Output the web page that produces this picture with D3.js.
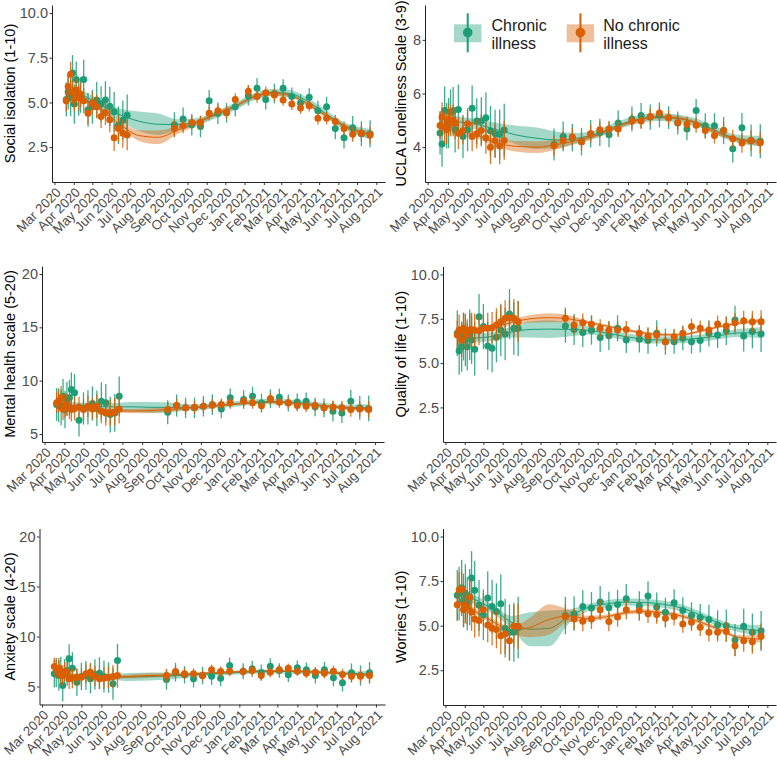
<!DOCTYPE html>
<html>
<head>
<meta charset="utf-8">
<script src="https://cdn.jsdelivr.net/npm/d3@7"></script>
<style>
  body { margin: 0; background: #fff; }
  svg { display: block; font-family: "Liberation Sans", Arial, sans-serif; }
</style>
</head>
<body>
<script>
// Survey waves (point dates) and smooth knots
var waveDates = ["2020-03-20","2020-03-23","2020-03-27","2020-03-30","2020-04-02","2020-04-05","2020-04-09","2020-04-12","2020-04-17","2020-04-24","2020-05-01","2020-05-08","2020-05-15","2020-05-22","2020-05-29","2020-06-05","2020-06-12","2020-06-19","2020-06-26",
  "2020-09-10","2020-09-24","2020-10-08","2020-10-22","2020-11-05","2020-11-19","2020-12-03","2020-12-17","2021-01-07","2021-01-21","2021-02-04","2021-02-18","2021-03-04","2021-03-18","2021-04-01","2021-04-15","2021-04-29","2021-05-13","2021-05-27","2021-06-10","2021-06-24","2021-07-08","2021-07-22"];
var smoothDates = ["2020-03-20","2020-04-15","2020-05-15","2020-06-15","2020-07-15","2020-08-15","2020-09-15","2020-10-15","2020-11-15","2020-12-15","2021-01-15","2021-02-15","2021-03-15","2021-04-15","2021-05-15","2021-06-15","2021-07-22"];

var groupNames = [["Chronic", "illness"], ["No chronic", "illness"]];

// Error bar half widths per wave (social isolation units)
var ciChronic = [0.95,1.0,1.05,1.0,1.1,1.0,1.05,1.0,1.1,0.95,0.95,1.0,1.0,1.05,1.1,1.1,1.05,1.1,1.15,
  0.7,0.65,0.6,0.6,0.6,0.6,0.55,0.55,0.55,0.55,0.55,0.55,0.5,0.5,0.5,0.5,0.55,0.55,0.6,0.6,0.65,0.7,0.75];
var ciNoChronic = [0.6,0.65,0.7,0.65,0.7,0.65,0.7,0.7,0.7,0.6,0.6,0.65,0.65,0.7,0.7,0.75,0.75,0.8,0.85,
  0.45,0.4,0.38,0.38,0.38,0.36,0.36,0.35,0.35,0.35,0.35,0.35,0.33,0.33,0.33,0.33,0.35,0.35,0.38,0.4,0.42,0.45,0.48];

// Social isolation
var isoChronic = [5.16,5.6,5.29,6.65,4.91,6.29,5.3,5.42,6.29,4.59,4.76,5.14,4.91,5.14,4.78,4.48,3.73,4.01,4.29,
  3.75,4.07,3.75,3.65,5.10,4.39,4.42,4.76,5.38,5.80,5.16,5.5,5.80,5.33,4.97,5.29,4.54,4.76,3.54,3.03,3.59,3.25,3.25];
var isoNoChronic = [5.10,5.89,6.57,5.57,5.20,5.70,5.25,5.44,5.10,4.40,4.97,4.76,4.22,4.44,4.03,3.03,3.54,3.27,3.18,
  3.54,3.69,3.88,3.88,4.39,4.54,4.44,5.16,5.63,5.33,5.54,5.42,5.14,4.91,4.69,4.82,4.12,4.12,3.93,3.54,3.22,3.27,3.18];
var isoFitChronic = [5.67,5.4,4.85,4.3,3.95,3.78,3.76,3.9,4.3,4.75,5.3,5.55,5.5,5.0,4.3,3.62,3.22];
var isoSeChronic = [0.35,0.25,0.25,0.35,0.55,0.6,0.3,0.22,0.2,0.2,0.2,0.2,0.2,0.2,0.2,0.2,0.3];
var isoFitNoChronic = [5.57,5.2,4.6,3.75,3.15,3.05,3.45,3.85,4.35,4.75,5.3,5.5,5.4,4.85,4.2,3.6,3.2];
var isoSeNoChronic = [0.25,0.15,0.15,0.2,0.3,0.38,0.22,0.15,0.12,0.12,0.12,0.12,0.12,0.12,0.12,0.12,0.2];

// UCLA loneliness
var uclaChronic = [4.53,4.12,5.37,4.8,4.9,5.3,5.35,4.65,5.4,4.4,4.65,5.45,4.97,4.97,5.1,4.6,4.5,4.47,4.64,
  4.1,4.4,4.35,4.2,4.5,4.55,4.46,4.9,5.05,5.18,5.12,5.2,5.1,4.9,4.68,5.37,4.8,4.8,4.62,3.94,4.72,4.25,4.22];
var uclaNoChronic = [4.81,5.12,4.75,4.66,5.02,4.95,5.0,4.9,4.52,4.62,4.87,4.4,4.5,4.62,4.35,4.0,4.25,4.04,4.25,
  4.05,4.25,4.38,4.2,4.5,4.65,4.68,4.68,4.97,4.97,5.14,5.27,5.1,4.92,4.85,4.82,4.62,4.43,4.62,4.31,4.15,4.25,4.16];
var uclaFitChronic = [5.05,4.95,4.85,4.65,4.45,4.33,4.27,4.33,4.5,4.8,5.02,5.12,5.08,4.92,4.62,4.32,4.22];
var uclaSeChronic = [0.3,0.2,0.2,0.25,0.35,0.4,0.3,0.2,0.15,0.15,0.15,0.15,0.15,0.15,0.15,0.15,0.2];
var uclaFitNoChronic = [4.9,4.65,4.45,4.15,4.03,4.0,4.1,4.25,4.45,4.75,5.0,5.12,5.1,4.9,4.55,4.3,4.17];
var uclaSeNoChronic = [0.2,0.12,0.12,0.15,0.2,0.22,0.18,0.1,0.08,0.08,0.08,0.08,0.08,0.08,0.08,0.08,0.12];

// Mental health
var mhChronic = [7.76,7.7,7.5,8.55,7.3,8.3,8.39,9.17,8.86,6.29,7.4,7.5,7.86,7.4,8.08,7.92,6.82,6.98,8.55,
  7.04,7.67,7.45,7.45,7.6,7.76,7.35,8.39,8.23,8.55,7.9,8.3,8.45,7.9,8.0,8.08,7.55,7.45,7.13,6.98,8.08,7.45,7.4];
var mhNoChronic = [7.92,8.08,8.39,7.35,7.67,7.76,7.5,7.3,7.4,7.54,7.3,7.6,7.35,7.6,7.13,6.98,6.98,7.07,7.35,
  7.3,7.67,7.45,7.5,7.6,7.7,7.76,7.92,8.08,7.92,7.65,8.3,7.98,7.92,7.67,7.6,7.67,7.45,7.54,7.45,7.3,7.35,7.3];
var mhFitChronic = [7.75,7.7,7.6,7.55,7.55,7.5,7.5,7.5,7.6,7.75,7.95,8.05,8.0,7.85,7.65,7.5,7.45];
var mhSeChronic = [0.4,0.3,0.3,0.35,0.45,0.5,0.45,0.3,0.25,0.25,0.25,0.25,0.25,0.25,0.25,0.25,0.35];
var mhFitNoChronic = [7.8,7.55,7.4,7.2,7.15,7.2,7.3,7.45,7.6,7.75,7.9,7.98,7.95,7.8,7.6,7.45,7.35];
var mhSeNoChronic = [0.2,0.12,0.12,0.15,0.2,0.22,0.18,0.1,0.1,0.1,0.1,0.1,0.1,0.1,0.1,0.1,0.15];

// Quality of life
var qolChronic = [6.68,5.7,5.93,6.5,6.31,5.93,6.6,6.31,5.78,7.62,7.06,5.97,5.84,6.46,6.87,6.64,7.77,6.96,6.96,
  7.09,6.9,6.72,6.85,6.44,6.55,6.96,6.31,6.34,6.27,6.68,6.21,6.21,6.4,6.21,6.27,6.68,6.59,6.83,7.43,6.53,6.78,6.64];
var qolNoChronic = [6.59,6.87,6.31,6.96,6.78,6.59,6.87,6.9,6.85,6.83,6.96,6.96,7.0,7.15,7.34,7.53,7.56,7.53,7.34,
  7.53,7.15,7.28,7.19,6.96,6.87,6.87,6.9,6.68,6.53,6.59,6.21,6.49,6.68,7.06,6.96,6.87,7.21,7.09,7.28,7.39,7.34,7.34];
var qolFitChronic = [6.3,6.4,6.5,6.75,6.9,6.92,6.9,6.85,6.7,6.5,6.35,6.3,6.32,6.4,6.55,6.7,6.72];
var qolSeChronic = [0.35,0.25,0.25,0.3,0.45,0.5,0.4,0.25,0.2,0.2,0.2,0.2,0.2,0.2,0.2,0.22,0.3];
var qolFitNoChronic = [6.7,6.85,6.98,7.3,7.5,7.56,7.5,7.3,7.1,6.88,6.7,6.6,6.6,6.8,7.05,7.25,7.4];
var qolSeNoChronic = [0.2,0.12,0.12,0.15,0.22,0.25,0.2,0.1,0.08,0.08,0.08,0.08,0.08,0.08,0.08,0.08,0.12];

// Anxiety
var anxChronic = [6.27,6.4,6.1,6.53,5.1,6.3,6.6,7.77,6.83,5.43,6.0,6.1,5.77,6.2,6.33,6.0,5.9,5.27,7.6,
  5.7,6.43,6.17,5.77,6.1,6.03,5.83,7.1,6.53,6.77,6.4,7.03,6.6,6.17,6.87,6.67,6.1,6.67,5.87,5.37,6.37,6.1,6.37];
var anxNoChronic = [7.0,6.77,6.83,6.27,6.1,6.5,6.43,5.77,5.83,5.93,5.93,6.27,6.43,6.03,5.77,5.83,5.93,6.0,6.1,
  6.1,6.5,6.27,6.27,6.1,6.67,6.5,6.53,6.5,6.6,6.1,6.43,6.67,6.83,6.53,6.33,6.43,6.33,6.53,6.2,6.03,6.03,6.1];
var anxFitChronic = [6.2,6.1,6.0,5.95,5.95,6.0,6.05,6.15,6.25,6.35,6.45,6.5,6.5,6.45,6.4,6.3,6.25];
var anxSeChronic = [0.35,0.25,0.25,0.3,0.4,0.4,0.35,0.25,0.2,0.2,0.2,0.2,0.2,0.2,0.2,0.2,0.3];
var anxFitNoChronic = [6.5,6.15,6.0,5.95,6.0,6.1,6.15,6.25,6.35,6.45,6.5,6.55,6.55,6.5,6.4,6.3,6.15];
var anxSeNoChronic = [0.2,0.12,0.12,0.15,0.2,0.22,0.18,0.1,0.1,0.1,0.1,0.1,0.1,0.1,0.1,0.1,0.15];

// Worries
var worChronic = [6.7,6.8,7.12,6.42,6.8,6.23,6.6,7.68,6.98,6.14,5.61,6.55,6.08,5.8,6.23,4.86,4.63,4.63,4.9,
  5.57,5.67,6.08,5.99,6.33,6.0,6.19,6.51,6.1,6.66,6.04,5.75,6.29,5.85,5.57,5.46,5.35,5.04,5.0,4.2,4.97,4.63,4.7];
var worNoChronic = [6.17,7.02,7.04,5.89,6.17,6.04,6.6,5.76,5.38,5.29,5.89,5.04,4.86,4.78,4.44,4.53,4.16,4.97,4.97,
  5.52,5.38,5.25,5.38,5.89,5.23,5.48,5.89,5.85,5.67,5.63,5.42,5.52,5.1,5.19,4.91,4.63,4.63,4.67,3.88,4.16,4.1,4.4];
var worFitChronic = [6.9,6.5,5.95,5.2,4.8,4.85,5.5,6.0,6.22,6.32,6.3,6.2,6.0,5.6,5.15,4.85,4.72];
var worSeChronic = [0.35,0.25,0.25,0.35,0.95,1.0,0.4,0.2,0.2,0.2,0.2,0.2,0.2,0.2,0.2,0.2,0.3];
var worFitNoChronic = [6.4,5.85,5.25,4.75,4.9,5.35,5.55,5.4,5.5,5.72,5.8,5.72,5.55,5.2,4.8,4.35,4.25];
var worSeNoChronic = [0.2,0.15,0.15,0.2,0.55,0.85,0.35,0.15,0.12,0.12,0.12,0.12,0.12,0.12,0.12,0.12,0.2];

// Colours (Dark2)
var colours = ["#1b9e77", "#d95f02"];

var svgWidth = 777;
var svgHeight = 762;

var svg = d3.select("body").append("svg")
  .attr("width", svgWidth)
  .attr("height", svgHeight);

var parseDate = d3.timeParse("%Y-%m-%d");
var waves = waveDates.map(parseDate);
var knots = smoothDates.map(parseDate);
var monthTicks = d3.timeMonth.range(new Date(2020, 2, 1), new Date(2021, 7, 2));
var xDomain = [new Date(2020, 1, 26), new Date(2021, 7, 15)];

// Panel layout (plot area boxes in pixels)
var panels = [
  { title: "Social isolation (1-10)", box: { l: 52, r: 385, t: 5, b: 182 }, lim: [1, 10],
    ticks: [2.5, 5, 7.5, 10], fmt: ".1f", ciScale: 1.0,
    pts: [isoChronic, isoNoChronic], fit: [isoFitChronic, isoFitNoChronic], se: [isoSeChronic, isoSeNoChronic] },
  { title: "UCLA Loneliness Scale (3-9)", box: { l: 425, r: 776, t: 5, b: 182 }, lim: [3, 9],
    ticks: [4, 6, 8], fmt: "d", ciScale: 0.85,
    pts: [uclaChronic, uclaNoChronic], fit: [uclaFitChronic, uclaFitNoChronic], se: [uclaSeChronic, uclaSeNoChronic] },
  { title: "Mental health scale (5-20)", box: { l: 42, r: 384, t: 266, b: 442 }, lim: [5, 20],
    ticks: [5, 10, 15, 20], fmt: "d", ciScale: 1.6,
    pts: [mhChronic, mhNoChronic], fit: [mhFitChronic, mhFitNoChronic], se: [mhSeChronic, mhSeNoChronic] },
  { title: "Quality of life (1-10)", box: { l: 443, r: 776, t: 266.5, b: 442 }, lim: [1, 10],
    ticks: [2.5, 5, 7.5, 10], fmt: ".1f", ciScale: 1.35,
    pts: [qolChronic, qolNoChronic], fit: [qolFitChronic, qolFitNoChronic], se: [qolSeChronic, qolSeNoChronic] },
  { title: "Anxiety scale (4-20)", box: { l: 39.5, r: 385, t: 528.5, b: 704.5 }, lim: [4, 20],
    ticks: [5, 10, 15, 20], fmt: "d", ciScale: 1.45,
    pts: [anxChronic, anxNoChronic], fit: [anxFitChronic, anxFitNoChronic], se: [anxSeChronic, anxSeNoChronic] },
  { title: "Worries (1-10)", box: { l: 443, r: 776, t: 528.5, b: 705 }, lim: [1, 10],
    ticks: [2.5, 5, 7.5, 10], fmt: ".1f", ciScale: 1.5,
    pts: [worChronic, worNoChronic], fit: [worFitChronic, worFitNoChronic], se: [worSeChronic, worSeNoChronic] }
];

var ciByGroup = [ciChronic, ciNoChronic];

panels.forEach(function(p) {
  var g = svg.append("g");

  var pad = (p.lim[1] - p.lim[0]) * 0.05;
  var xScale = d3.scaleTime().domain(xDomain).range([p.box.l, p.box.r]);
  var yScale = d3.scaleLinear().domain([p.lim[0] - pad, p.lim[1] + pad]).range([p.box.b, p.box.t]);

  // smooth ribbons + lines
  [0, 1].forEach(function(k) {
    var rows = knots.map(function(d, i) {
      return { date: d, fit: p.fit[k][i], se: p.se[k][i] };
    });
    var area = d3.area()
      .curve(d3.curveMonotoneX)
      .x(function(d) { return xScale(d.date); })
      .y0(function(d) { return yScale(d.fit - d.se); })
      .y1(function(d) { return yScale(d.fit + d.se); });
    var line = d3.line()
      .curve(d3.curveMonotoneX)
      .x(function(d) { return xScale(d.date); })
      .y(function(d) { return yScale(d.fit); });

    g.append("path")
      .attr("d", area(rows))
      .attr("fill", colours[k])
      .attr("fill-opacity", 0.4);
    g.append("path")
      .attr("d", line(rows))
      .attr("fill", "none")
      .attr("stroke", colours[k])
      .attr("stroke-width", 1);
  });

  // point ranges
  [0, 1].forEach(function(k) {
    var rows = waves.map(function(d, i) {
      return { date: d, value: p.pts[k][i], ci: ciByGroup[k][i] * p.ciScale };
    });
    g.append("g").selectAll("line")
      .data(rows)
      .enter()
      .append("line")
      .attr("x1", function(d) { return xScale(d.date); })
      .attr("x2", function(d) { return xScale(d.date); })
      .attr("y1", function(d) { return yScale(d.value - d.ci); })
      .attr("y2", function(d) { return yScale(d.value + d.ci); })
      .attr("stroke", colours[k])
      .attr("stroke-width", 1.3)
      .attr("stroke-opacity", 0.85);
    g.append("g").selectAll("circle")
      .data(rows)
      .enter()
      .append("circle")
      .attr("cx", function(d) { return xScale(d.date); })
      .attr("cy", function(d) { return yScale(d.value); })
      .attr("r", 3.5)
      .attr("fill", colours[k]);
  });

  // axes
  var yAxis = d3.axisLeft(yScale)
    .tickValues(p.ticks)
    .tickFormat(d3.format(p.fmt))
    .tickSizeInner(2.5)
    .tickSizeOuter(0)
    .tickPadding(1.5);
  var xAxis = d3.axisBottom(xScale)
    .tickValues(monthTicks)
    .tickFormat(d3.timeFormat("%b %Y"))
    .tickSizeInner(3)
    .tickSizeOuter(0);

  var yG = g.append("g")
    .attr("transform", "translate(" + p.box.l + ",0)")
    .call(yAxis);
  var xG = g.append("g")
    .attr("transform", "translate(0," + p.box.b + ")")
    .call(xAxis);

  [yG, xG].forEach(function(a) {
    a.select(".domain").attr("stroke", "#222").attr("stroke-width", 1);
    a.selectAll(".tick line").attr("stroke", "#333");
    a.selectAll(".tick text")
      .attr("fill", "#4d4d4d")
      .style("font-family", "'Liberation Sans', Arial, sans-serif");
  });
  yG.selectAll(".tick text").style("font-size", "14.5px");

  xG.selectAll(".tick text")
    .style("font-size", "13.3px")
    .attr("text-anchor", "end")
    .attr("x", 0)
    .attr("y", 0)
    .attr("dy", "0.72em")
    .attr("transform", "translate(0,4.5) rotate(-45)");

  // y axis title
  g.append("text")
    .attr("transform", "translate(" + (p.box.l < 100 ? 9.5 : 400.5) + "," + ((p.box.t + p.box.b) / 2) + ") rotate(-90)")
    .attr("text-anchor", "middle")
    .attr("dy", "0.36em")
    .style("font-size", "14.5px")
    .attr("fill", "#000")
    .text(p.title);
});

// legend (inside top-right panel)
var legendKeys = [{ x: 454, text: 491.5 }, { x: 566.7, text: 603.3 }];
legendKeys.forEach(function(lk, k) {
  var lg = svg.append("g");
  var cx = lk.x + 13.7;
  lg.append("rect")
    .attr("x", lk.x).attr("y", 24.3)
    .attr("width", 27.4).attr("height", 18)
    .attr("fill", colours[k]).attr("fill-opacity", 0.4);
  lg.append("line")
    .attr("x1", cx).attr("x2", cx)
    .attr("y1", 13.3).attr("y2", 52.3)
    .attr("stroke", colours[k]).attr("stroke-width", 2);
  lg.append("circle")
    .attr("cx", cx).attr("cy", 32.5).attr("r", 4.8)
    .attr("fill", colours[k]);
  lg.append("text")
    .attr("x", lk.text).attr("y", 30.5)
    .style("font-size", "16px")
    .attr("fill", "#1a1a1a")
    .text(groupNames[k][0]);
  lg.append("text")
    .attr("x", lk.text).attr("y", 49)
    .style("font-size", "16px")
    .attr("fill", "#1a1a1a")
    .text(groupNames[k][1]);
});
</script>
</body>
</html>
